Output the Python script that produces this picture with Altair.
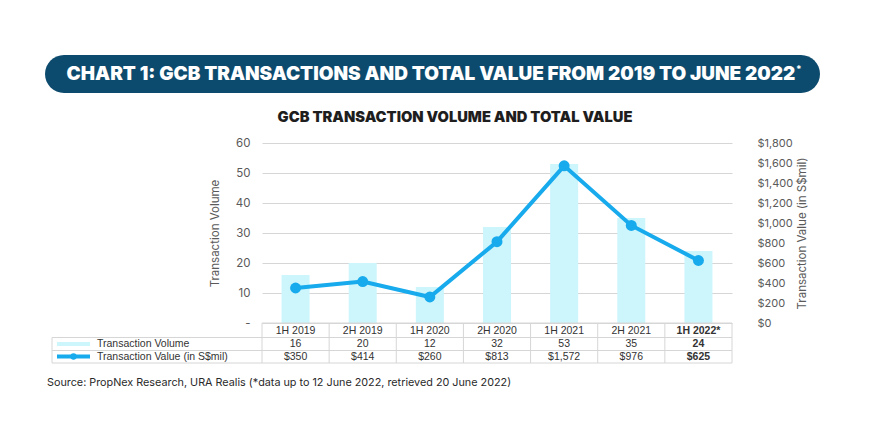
import altair as alt
import pandas as pd

periods = ["1H 2019", "2H 2019", "1H 2020", "2H 2020", "1H 2021", "2H 2021", "1H 2022*"]
volume = [16, 20, 12, 32, 53, 35, 24]
value = [350, 414, 260, 813, 1572, 976, 625]

title_text = "CHART 1: GCB TRANSACTIONS AND TOTAL VALUE FROM 2019 TO JUNE 2022"
subtitle_text = "GCB TRANSACTION VOLUME AND TOTAL VALUE"
source_text = "Source: PropNex Research, URA Realis (*data up to 12 June 2022, retrieved 20 June 2022)"
legend_labels = ["Transaction Volume", "Transaction Value (in S$mil)"]

df = pd.DataFrame({"period": periods, "volume": volume, "value": value})
one = pd.DataFrame({"a": [0]})

BAR = "#ccf5fc"
LINE = "#17aaec"
GRID = "#d6d6d6"
LABEL = "#5a5a5a"
FONT = "Inter"

base = alt.Chart(df)
xenc = alt.X("period:N", sort=periods,
             scale=alt.Scale(domain=periods, paddingInner=0, paddingOuter=0),
             axis=None)

bars = base.mark_bar(size=28, color=BAR).encode(
    x=xenc,
    y=alt.Y("volume:Q", scale=alt.Scale(domain=[0, 60]),
            axis=alt.Axis(values=[0, 10, 20, 30, 40, 50, 60],
                          labelExpr="datum.value == 0 ? '-' : datum.label",
                          title="Transaction Volume", domain=False, ticks=False,
                          grid=True, gridColor=GRID, labelPadding=12,
                          labelFont=FONT, labelFontSize=11.5, labelColor=LABEL,
                          titleFont=FONT, titleFontSize=11.5, titleFontWeight="normal",
                          titleColor=LABEL, titleX=-47, titleY=90,
                          titleAlign="center", titleBaseline="middle"))
)

line = base.mark_line(color=LINE, strokeWidth=4,
                      point=alt.OverlayMarkDef(size=120, color=LINE, filled=True, opacity=1)).encode(
    x=xenc,
    y=alt.Y("value:Q", scale=alt.Scale(domain=[0, 1800]),
            axis=alt.Axis(orient="right", values=list(range(0, 1801, 200)),
                          format="$,.0f", title="Transaction Value (in S$mil)",
                          domain=False, ticks=False, grid=False, labelPadding=25,
                          labelFont=FONT, labelFontSize=11, labelColor=LABEL,
                          titleFont=FONT, titleFontSize=11.5, titleFontWeight="normal",
                          titleColor=LABEL, titleAngle=270, titleX=70, titleY=90,
                          titleAlign="center", titleBaseline="middle"))
)

# table grid drawn with rules
hlines = []
for yv in (180, 194.5, 207.5, 220):
    hlines.append(alt.Chart(one).mark_rule(color=GRID, strokeWidth=1).encode(
        x=alt.value(0), x2=alt.value(470), y=alt.value(yv)))
for yv in (194.5, 207.5, 220):
    hlines.append(alt.Chart(one).mark_rule(color=GRID, strokeWidth=1).encode(
        x=alt.value(-210), x2=alt.value(0), y=alt.value(yv)))
vlines = [
    base.mark_rule(color=GRID, strokeWidth=1).encode(
        x=alt.X("period:N", sort=periods, bandPosition=0,
                scale=alt.Scale(domain=periods, paddingInner=0, paddingOuter=0), axis=None),
        y=alt.value(180), y2=alt.value(220)),
    alt.Chart(one).mark_rule(color=GRID, strokeWidth=1).encode(
        x=alt.value(470), y=alt.value(180), y2=alt.value(220)),
    alt.Chart(one).mark_rule(color=GRID, strokeWidth=1).encode(
        x=alt.value(-210), y=alt.value(194.5), y2=alt.value(220)),
]

tfont = dict(font="Liberation Sans", fontSize=10.5, color="#333333")
normal = base.transform_filter(alt.datum.period != periods[-1])
last = base.transform_filter(alt.datum.period == periods[-1])
table_text = []
for src, w in ((normal, "normal"), (last, "bold")):
    table_text.append(src.mark_text(fontWeight=w, **tfont).encode(
        x=xenc, y=alt.value(187.5), text="period:N"))
    table_text.append(src.mark_text(fontWeight=w, **tfont).encode(
        x=xenc, y=alt.value(201.2), text="volume:Q"))
    table_text.append(src.mark_text(fontWeight=w, **tfont).encode(
        x=xenc, y=alt.value(214), text=alt.Text("value:Q", format="$,.0f")))

leg_text = alt.Chart(pd.DataFrame({"label": [legend_labels[0]]})).mark_text(
    align="left", **tfont).encode(x=alt.value(-165), y=alt.value(201.2), text="label:N")
leg_text2 = alt.Chart(pd.DataFrame({"label": [legend_labels[1]]})).mark_text(
    align="left", **tfont).encode(x=alt.value(-165), y=alt.value(214), text="label:N")
sw1 = alt.Chart(one).mark_rect(color=BAR).encode(
    x=alt.value(-205), x2=alt.value(-172), y=alt.value(199), y2=alt.value(203))
sw2 = alt.Chart(one).mark_rule(color=LINE, strokeWidth=4).encode(
    x=alt.value(-205), x2=alt.value(-172), y=alt.value(213.5))
sw2p = alt.Chart(one).mark_point(color=LINE, filled=True, opacity=1, size=40).encode(
    x=alt.value(-188.5), y=alt.value(213.5))

banner = alt.Chart(one).mark_rect(color="#0d4b6e", cornerRadius=19).encode(
    x=alt.value(-217), x2=alt.value(558), y=alt.value(-88), y2=alt.value(-50))
banner_text = alt.Chart(pd.DataFrame({"t": [title_text]})).mark_text(
    font=FONT, fontSize=19, fontWeight=900, color="white", align="center", baseline="middle").encode(
    x=alt.value(169), y=alt.value(-69), text="t:N")
star = alt.Chart(pd.DataFrame({"t": ["*"]})).mark_text(
    font=FONT, fontSize=10, fontWeight="bold", color="white", align="left").encode(
    x=alt.value(534), y=alt.value(-73), text="t:N")
subtitle = alt.Chart(pd.DataFrame({"t": [subtitle_text]})).mark_text(
    font=FONT, fontSize=14.7, fontWeight=900, color="#1e1e1e", align="center", baseline="middle").encode(
    x=alt.value(193), y=alt.value(-25), text="t:N")
source = alt.Chart(pd.DataFrame({"t": [source_text]})).mark_text(
    font=FONT, fontSize=10.8, color="#2a2a2a", align="left", baseline="middle").encode(
    x=alt.value(-215), y=alt.value(240), text="t:N")

chart = alt.layer(
    banner, banner_text, star, subtitle,
    bars, line,
    *hlines, *vlines, *table_text,
    leg_text, leg_text2, sw1, sw2, sw2p, source,
).resolve_scale(y="independent").properties(
    width=470, height=180,
    autosize="none",
    padding={"left": 254, "top": 135, "right": 130, "bottom": 106},
).configure_view(stroke=None)

chart.save("out.html", embed_options={"renderer": "svg", "actions": False})
